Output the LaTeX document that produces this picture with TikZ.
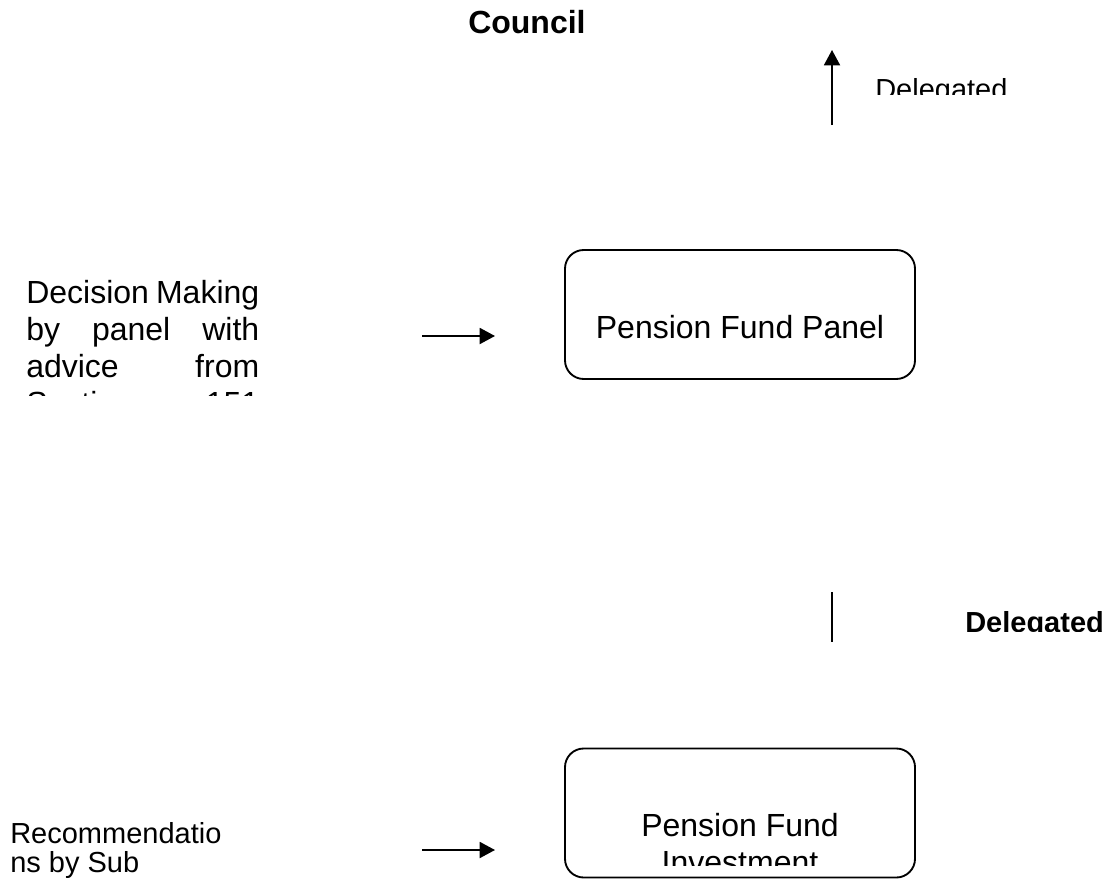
\documentclass[tikz,border=0pt]{standalone}
\usepackage{fontspec}
\setmainfont{Liberation Sans}
\usetikzlibrary{arrows.meta}
\begin{document}
\begin{tikzpicture}[x=0.75pt, y=-0.75pt,
      viiva/.style={line width=1.4pt, draw=black},
      nuoli/.style={viiva, -{Triangle[length=11.5pt, width=12pt]}},
      laatikko/.style={draw=black, line width=1.4pt, rounded corners=14pt,
        minimum width=262.5pt, minimum height=96.75pt, inner sep=0pt},
      iso/.style={inner sep=0pt, font=\fontsize{24}{27.75}\selectfont},
      pieni/.style={inner sep=0pt, font=\fontsize{21.75}{21.75}\selectfont}]

      \useasboundingbox (0,0) rectangle (1114,881);

      % Otsikko ja ylin nuoli
      \node [iso, font=\fontsize{24}{27.75}\selectfont\bfseries, anchor=base west]
        (council) at (468,34) {Council};
      \coordinate (ylos1) at (832,125);
      \coordinate (ylos2) at (832,50);
      \draw [nuoli] (ylos1) -- (ylos2);
      \begin{scope}
        \clip (860,60) rectangle (1030,95);
        \node [pieni, anchor=base west] (delegoitu1) at (875,99) {Delegated};
      \end{scope}

      % Paneeli
      \begin{scope}
        \clip (0,240) rectangle (300,395);
        \node [iso, anchor=base west] (paatos) at (26,303) {\parbox[t]{174.75pt}{%
          \makebox[174.75pt][s]{Decision Making}\\
          \makebox[174.75pt][s]{by panel with}\\
          \makebox[174.75pt][s]{advice from}\\
          \makebox[174.75pt][s]{Section 151}}};
      \end{scope}
      \coordinate (oik1) at (422,336);
      \coordinate (oik2) at (495,336);
      \draw [nuoli] (oik1) -- (oik2);
      \node [laatikko] (paneeli) at (740,314.5) {};
      \node [iso, anchor=base] (paneeliteksti) at (740,338) {Pension Fund Panel};

      % Keskiviiva
      \coordinate (kesk1) at (832,592);
      \coordinate (kesk2) at (832,642);
      \draw [viiva] (kesk1) -- (kesk2);
      \begin{scope}
        \clip (950,600) rectangle (1114,631);
        \node [pieni, font=\fontsize{21.75}{21.75}\selectfont\bfseries, anchor=base west]
          (delegoitu2) at (965,632.5) {Delegated};
      \end{scope}

      % Sijoitus
      \node [pieni, anchor=base west] (suositus) at (10,843) {\parbox[t]{200pt}{%
        Recommendatio\\ns by Sub}};
      \coordinate (oik3) at (422,850);
      \coordinate (oik4) at (495,850);
      \draw [nuoli] (oik3) -- (oik4);
      \node [laatikko] (sijoitus) at (740,813) {};
      \begin{scope}
        \clip (565,748) rectangle (915,865);
        \node [iso, anchor=base] (sijoitusteksti) at (740,836) {\parbox[t]{262.5pt}{%
          \centering Pension Fund\\ Investment}};
      \end{scope}
    \end{tikzpicture}
\end{document}
